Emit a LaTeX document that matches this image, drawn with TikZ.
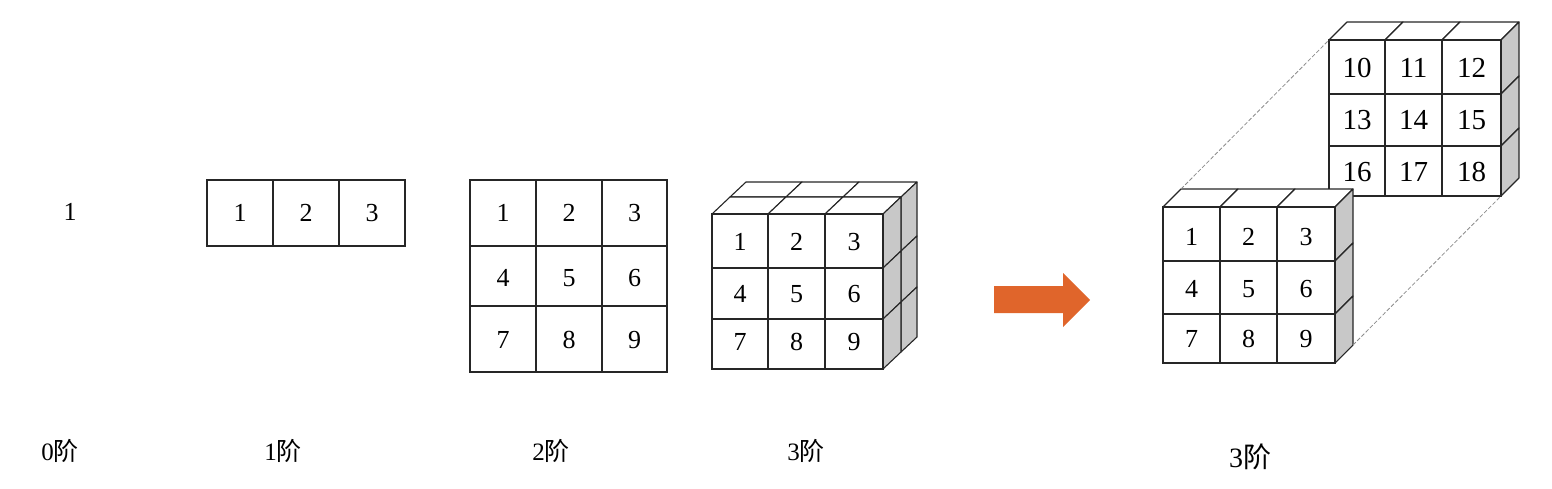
\documentclass[tikz,border=0pt]{standalone}
\usepackage{fontspec}
\setmainfont{Liberation Serif}
\newfontfamily\cjk{Noto Sans CJK SC}
\definecolor{sidegray}{HTML}{C8C8C8}
\definecolor{arroworange}{HTML}{E0652B}
\definecolor{linkgray}{HTML}{8C8C8C}
\tikzset{
  cell/.style={draw=black!85, line width=0.55pt, inner sep=0pt, outer sep=0pt, text height=8.8pt, text depth=0pt, font=\fontsize{13}{13}\selectfont},
  bigcell/.style={cell, text height=9.8pt, font=\fontsize{14.5}{14.5}\selectfont},
  topface/.style={draw=black!85, line width=0.55pt, fill=white, line join=round},
  sideface/.style={draw=black!85, line width=0.55pt, fill=sidegray, line join=round},
  linkline/.style={draw=linkgray, line width=0.4pt, dash pattern=on 2pt off 1pt},
  orderlabel/.style={font=\fontsize{12.5}{12.5}\selectfont, inner sep=0pt}
}
\begin{document}
\begin{tikzpicture}[x=0.5pt,y=-0.5pt]
\useasboundingbox (0,0) rectangle (1552,488);

%scalar
\node[font=\fontsize{13}{13}\selectfont, inner sep=0pt] (scalar) at (70,212) {1};

%vector
\foreach \num/\cx in {1/240,2/306,3/372}
\node[cell, minimum width=66*0.5pt, minimum height=66*0.5pt] (vec\num) at (\cx,213) {\num};

%matrix
\foreach \row/\cy/\ch/\ty in {0/213/66/0,1/276/60/-1,2/339/66/-0.5}
\foreach \col/\cx/\cw in {0/503/66,1/569/66,2/634.5/65}{
\pgfmathtruncatemacro\num{\row*3+\col+1}
\node[cell, minimum width=\cw*0.5pt, minimum height=\ch*0.5pt] (mat\num) at (\cx,\cy) {\raisebox{\ty pt}{\num}};
}

%cube with two layers
\foreach \dx/\dy/\ddx/\ddy in {18/-17/16/-15,0/0/18/-17}{
\begin{scope}[shift={(\dx,\dy)}]
\foreach \x/\xn in {712/768,768/825,825/883}
\draw[topface] (\x,214) -- (\xn,214) -- ++(\ddx,\ddy) -- ++({\x-\xn},0) -- cycle;
\foreach \y/\yn in {214/268,268/319,319/369}
\draw[sideface] (883,\y) -- (883,\yn) -- ++(\ddx,\ddy) -- ++(0,{\y-\yn}) -- cycle;
\end{scope}
}
\foreach \row/\cy/\ch/\ty in {0/241/54/-0.5,1/293.5/51/0,2/344/50/1}
\foreach \col/\cx/\cw in {0/740/56,1/796.5/57,2/854/58}{
\pgfmathtruncatemacro\num{\row*3+\col+1}
\node[cell, minimum width=\cw*0.5pt, minimum height=\ch*0.5pt] (cube\num) at (\cx,\cy) {\raisebox{\ty pt}{\num}};
}

%arrow
\fill[arroworange] (994,286) -- (1063,286) -- (1063,273) -- (1090,300) -- (1063,327) -- (1063,313) -- (994,313) -- cycle;

%back layer
\foreach \x/\xn in {1329/1385,1385/1442,1442/1501}
\draw[topface] (\x,40) -- (\xn,40) -- ++(18,-18) -- ++({\x-\xn},0) -- cycle;
\foreach \y/\yn in {40/94,94/146,146/196}
\draw[sideface] (1501,\y) -- (1501,\yn) -- ++(18,-18) -- ++(0,{\y-\yn}) -- cycle;
\foreach \row/\cy/\ch/\ty in {0/67/54/-0.5,1/120/52/0,2/171/50/-0.5}
\foreach \col/\cx/\cw in {0/1357/56,1/1413.5/57,2/1471.5/59}{
\pgfmathtruncatemacro\num{\row*3+\col+10}
\node[bigcell, minimum width=\cw*0.5pt, minimum height=\ch*0.5pt] (back\num) at (\cx,\cy) {\raisebox{\ty pt}{\num}};
}

%front layer
\foreach \x/\xn in {1163/1220,1220/1277,1277/1335}
\draw[topface] (\x,207) -- (\xn,207) -- ++(18,-18) -- ++({\x-\xn},0) -- cycle;
\foreach \y/\yn in {207/261,261/314,314/363}
\draw[sideface] (1335,\y) -- (1335,\yn) -- ++(18,-18) -- ++(0,{\y-\yn}) -- cycle;
\foreach \row/\cy/\ch/\ty in {0/234/54/-1.5,1/287.5/53/-0.5,2/338.5/49/0}
\foreach \col/\cx/\cw in {0/1191.5/57,1/1248.5/57,2/1306/58}{
\pgfmathtruncatemacro\num{\row*3+\col+1}
\node[cell, minimum width=\cw*0.5pt, minimum height=\ch*0.5pt] (front\num) at (\cx,\cy) {\raisebox{\ty pt}{\num}};
}

%dashed links between the layers
\coordinate (fronttop) at (1181,189);
\coordinate (frontbottom) at (1353,345);
\draw[linkline] (fronttop) -- (back10.north west);
\draw[linkline] (frontbottom) -- (back18.south east);

%order labels
\node[orderlabel] (order0) at (60,451) {0{\cjk 阶}};
\node[orderlabel] (order1) at (283,451) {1{\cjk 阶}};
\node[orderlabel] (order2) at (551,451) {2{\cjk 阶}};
\node[orderlabel] (order3) at (806,451) {3{\cjk 阶}};
\node[orderlabel, font=\fontsize{14}{14}\selectfont] (order4) at (1250,457) {3{\cjk 阶}};
\end{tikzpicture}
\end{document}
